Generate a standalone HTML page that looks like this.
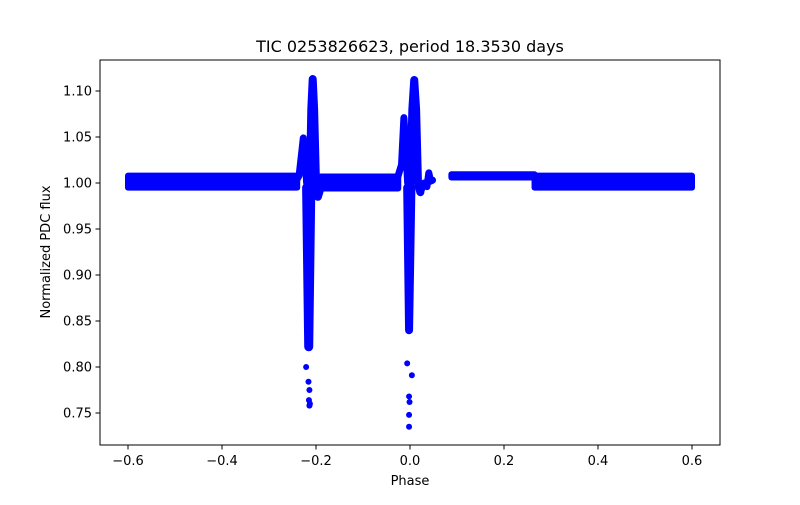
<!DOCTYPE html>
<html><head><meta charset="utf-8">
<style>
body{margin:0;background:#fff;}
svg text{font-family:"DejaVu Sans","Liberation Sans",sans-serif;fill:#000;}
</style></head>
<body>
<svg id="chart" width="800" height="500" viewBox="0 0 800 500">
<rect width="800" height="500" fill="#fff"/>
<g id="marks"></g>
<rect x="100" y="60" width="620" height="385" fill="none" stroke="#000" stroke-width="1"/>
<g id="xt"></g>
<g id="yt"></g>
<text x="410" y="52" font-size="16" text-anchor="middle">TIC 0253826623, period 18.3530 days</text>
<text x="410" y="485" font-size="13" text-anchor="middle">Phase</text>
<text x="50" y="252" font-size="13" text-anchor="middle" transform="rotate(-90 50 252)">Normalized PDC flux</text>
</svg>
<script>
const xTicks=[-0.6,-0.4,-0.2,0.0,0.2,0.4,0.6];
const xTickLabels=["−0.6","−0.4","−0.2","0.0","0.2","0.4","0.6"];
const yTicks=[0.75,0.80,0.85,0.90,0.95,1.00,1.05,1.10];
const yTickLabels=["0.75","0.80","0.85","0.90","0.95","1.00","1.05","1.10"];
// baseline dense bands
const bandStart=[-0.6,-0.19,0.088,0.265];
const bandEnd=[-0.24,-0.025,0.265,0.6];
const bandLo=[0.995,0.994,1.006,0.995];
const bandHi=[1.008,1.007,1.0095,1.008];
// traced features (dense point runs)
const primBumpPhase=[-0.245,-0.236,-0.230,-0.227,-0.224,-0.220];
const primBumpFlux=[1.0,1.008,1.035,1.049,1.04,1.0];
const primSpikePhase=[-0.213,-0.210,-0.207,-0.204,-0.200,-0.196,-0.19];
const primSpikeFlux=[1.0,1.08,1.113,1.08,1.0,0.985,0.995];
const primDipPhase=[-0.220,-0.2155,-0.211];
const primDipFlux=[0.995,0.822,0.995];
const secBumpPhase=[-0.03,-0.018,-0.013,-0.009,-0.005];
const secBumpFlux=[1.0,1.02,1.071,1.04,1.0];
const secSpikePhase=[0.001,0.005,0.009,0.013,0.017,0.022];
const secSpikeFlux=[1.0,1.08,1.112,1.08,1.0,0.99];
const secDipPhase=[-0.006,-0.002,0.003];
const secDipFlux=[0.995,0.84,0.995];
const wigglePhase=[0.022,0.03,0.036,0.04,0.044,0.048];
const wiggleFlux=[0.99,1.0,0.996,1.011,1.002,1.003];
// isolated points
const ptPhase=[-0.221,-0.216,-0.214,-0.215,-0.213,-0.214,-0.006,0.004,-0.002,-0.001,-0.002,-0.002];
const ptFlux=[0.800,0.784,0.775,0.764,0.760,0.758,0.804,0.791,0.768,0.762,0.748,0.735];

const X=v=>410+v*470, Y=v=>183-(v-1.0)*920;
const NS="http://www.w3.org/2000/svg";
const marks=document.getElementById('marks');
const blue="#0000ff";
for(let i=0;i<bandStart.length;i++){
  const r=document.createElementNS(NS,'rect');
  r.setAttribute('x',X(bandStart[i])-3);
  r.setAttribute('width',X(bandEnd[i])-X(bandStart[i])+6);
  r.setAttribute('y',Y(bandHi[i])-3);
  r.setAttribute('height',Y(bandLo[i])-Y(bandHi[i])+6);
  r.setAttribute('rx',3);
  r.setAttribute('fill',blue);
  
  
  marks.appendChild(r);
}
function trace(ph,fl,w,name){
  const p=document.createElementNS(NS,'polyline');
  p.setAttribute('points',ph.map((v,i)=>X(v)+','+Y(fl[i])).join(' '));
  p.setAttribute('fill','none');
  p.setAttribute('stroke',blue);
  p.setAttribute('stroke-width',w);
  p.setAttribute('stroke-linecap','round');
  p.setAttribute('stroke-linejoin','round');
  
  
  marks.appendChild(p);
}
trace(primBumpPhase,primBumpFlux,7,'primary-bump');
trace(primSpikePhase,primSpikeFlux,8,'primary-spike');
trace(primDipPhase,primDipFlux,9,'primary-eclipse');
trace(secBumpPhase,secBumpFlux,7,'secondary-bump');
trace(secSpikePhase,secSpikeFlux,8,'secondary-spike');
trace(secDipPhase,secDipFlux,8,'secondary-eclipse');
trace(wigglePhase,wiggleFlux,7,'post-eclipse-wiggle');
for(let i=0;i<ptPhase.length;i++){
  const c=document.createElementNS(NS,'circle');
  c.setAttribute('cx',X(ptPhase[i]));
  c.setAttribute('cy',Y(ptFlux[i]));
  c.setAttribute('r',3);
  c.setAttribute('fill',blue);
  
  
  marks.appendChild(c);
}
const xt=document.getElementById('xt');
xTicks.forEach((v,i)=>{
  const l=document.createElementNS(NS,'line');
  l.setAttribute('x1',X(v));l.setAttribute('x2',X(v));
  l.setAttribute('y1',445);l.setAttribute('y2',449.5);
  l.setAttribute('stroke','#000');
  
  
  xt.appendChild(l);
  const t=document.createElementNS(NS,'text');
  t.setAttribute('x',X(v));t.setAttribute('y',465);
  t.setAttribute('font-size','13');t.setAttribute('text-anchor','middle');
  t.textContent=xTickLabels[i];
  
  
  xt.appendChild(t);
});
const yt=document.getElementById('yt');
yTicks.forEach((v,i)=>{
  const l=document.createElementNS(NS,'line');
  l.setAttribute('x1',95.5);l.setAttribute('x2',100);
  l.setAttribute('y1',Y(v));l.setAttribute('y2',Y(v));
  l.setAttribute('stroke','#000');
  
  
  yt.appendChild(l);
  const t=document.createElementNS(NS,'text');
  t.setAttribute('x',92);t.setAttribute('y',Y(v)+4.5);
  t.setAttribute('font-size','13');t.setAttribute('text-anchor','end');
  t.textContent=yTickLabels[i];
  
  
  yt.appendChild(t);
});
</script>
</body></html>
